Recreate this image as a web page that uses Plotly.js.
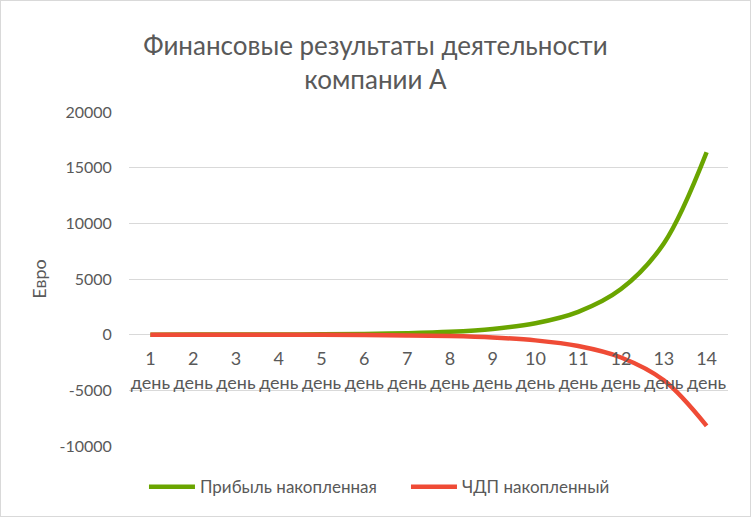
<!DOCTYPE html>
<html>
<head>
<meta charset="utf-8">
<script src="https://cdn.plot.ly/plotly-3.0.1.min.js"></script>
<style>
html,body{margin:0;padding:0;background:#fff;}
#wrap{position:relative;width:751px;height:517px;}
#chart{width:751px;height:517px;}
#frame{position:absolute;left:0;top:0;width:749px;height:515px;border:1px solid #d9d9d9;pointer-events:none;}
</style>
</head>
<body>
<div id="wrap"><div id="chart"></div><div id="frame"></div></div>
<script>
const categories = ["1<br>день","2<br>день","3<br>день","4<br>день","5<br>день","6<br>день","7<br>день","8<br>день","9<br>день","10<br>день","11<br>день","12<br>день","13<br>день","14<br>день"];
const profitCum = [2, 4, 8, 16, 32, 64, 128, 256, 512, 1024, 2048, 4096, 8192, 16384];
const cashFlowCum = [-1, -2, -4, -8, -16, -32, -64, -128, -256, -512, -1024, -2048, -4096, -8192];
const seriesNames = ["Прибыль накопленная", "ЧДП накопленный"];
const yTicks = [-10000, -5000, 0, 5000, 10000, 15000, 20000];

const FONT = "Lato, 'Open Sans', sans-serif";
const GRAY = "#595959";

const traces = [
  {x: categories, y: profitCum, name: seriesNames[0], type: "scatter", mode: "lines",
   line: {color: "#6aa500", width: 4.5, shape: "spline", smoothing: 1}},
  {x: categories, y: cashFlowCum, name: seriesNames[1], type: "scatter", mode: "lines",
   line: {color: "#ef4b36", width: 4.5, shape: "spline", smoothing: 1}}
];

const layout = {
  width: 751, height: 517,
  margin: {l: 129, r: 23, t: 112, b: 71},
  paper_bgcolor: "#fff", plot_bgcolor: "#fff",
  font: {family: FONT, color: GRAY, size: 16},
  title: {text: "Финансовые результаты деятельности<br>компании А",
          font: {family: FONT, size: 26, color: GRAY},
          x: 0.5, xanchor: "center", y: 1 - 55/517, yanchor: "middle", yref: "container"},
  xaxis: {type: "category", range: [-0.5, 13.5], anchor: "free", position: 1/3,
          showgrid: false, zeroline: false, showline: false,
          ticks: "outside", ticklen: 8, tickcolor: "rgba(0,0,0,0)",
          tickfont: {family: FONT, size: 18, color: GRAY}, fixedrange: true},
  yaxis: {range: [-10000, 20000], tickvals: yTicks, ticktext: yTicks.map(String),
          showgrid: true, gridcolor: "#d9d9d9", gridwidth: 1, zeroline: false,
          showline: false, ticks: "outside", ticklen: 13, tickcolor: "rgba(0,0,0,0)",
          tickfont: {family: FONT, size: 16, color: GRAY},
          title: {text: "Евро", font: {family: FONT, size: 18, color: GRAY}, standoff: 8},
          domain: [0, 1], fixedrange: true},
  showlegend: true,
  legend: {orientation: "h", x: 0.025, xanchor: "left", y: -0.123, yanchor: "middle",
           font: {family: FONT, size: 17, color: GRAY}, itemwidth: 46, entrywidth: 201,
           traceorder: "normal"},
  hovermode: false
};

Plotly.newPlot("chart", traces, layout, {displayModeBar: false, staticPlot: true});
</script>
</body>
</html>
